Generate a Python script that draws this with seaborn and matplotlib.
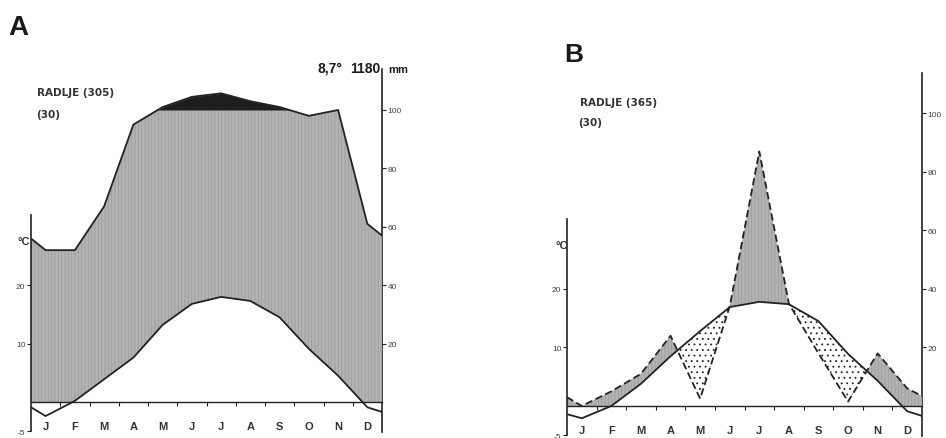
import numpy as np
import pandas as pd
import matplotlib
matplotlib.use('Agg')
import matplotlib.pyplot as plt
import seaborn as sns
from matplotlib.patches import Rectangle

# Climate diagram data, Radlje
months = ['J', 'F', 'M', 'A', 'M', 'J', 'J', 'A', 'S', 'O', 'N', 'D']

temp_A = [-2.4, 0.2, 3.9, 7.6, 13.2, 16.8, 18.0, 17.3, 14.5, 9.1, 4.5, -0.9]   # °C
temp_A_edges = (-0.9, -1.7)
prec_A = [52, 52, 67, 95, 110, 145, 157, 130, 110, 98, 100, 61]               # mm
prec_A_edges = (56, 57)

temp_B = [-2.1, 0.0, 3.8, 8.5, 12.8, 16.9, 17.8, 17.4, 14.5, 8.9, 4.3, -0.9]  # °C
temp_B_edges = (-1.4, -1.7)
dash_B = [0, 5, 11, 24, 2.5, 34, 87, 35, 18, 1.5, 18, 6]                        # mm
dash_B_edges = (3, 3.4)

mm_ticks = [20, 40, 60, 80, 100]

W, H = 946, 439
GRAY = '#b3b3b3'
INK = '#222222'

sns.set_theme(style='ticks')
plt.rcParams['font.family'] = ['Liberation Sans', 'DejaVu Sans']
plt.rcParams['hatch.linewidth'] = 0.6


def mm_to_units(p):
    # 2 mm = 1 °C up to 100 mm, reduced scale above
    p = np.asarray(p, float)
    return np.where(p <= 100, p / 2, 50 + (p - 100) / 20)


def series(vals, edges):
    x = np.concatenate([[0], np.arange(12) + 0.5, [12]])
    y = np.concatenate([[edges[0]], vals, [edges[1]]])
    return x, y


def style_axes(ax):
    ax.set_xlim(0, 12)
    ax.set_ylim(-5.2, 57)
    for s in ['top', 'right']:
        ax.spines[s].set_visible(False)
    ax.spines['bottom'].set_position(('data', 0))
    ax.spines['bottom'].set_linewidth(1.0)
    ax.spines['bottom'].set_color(INK)
    ax.spines['left'].set_bounds(-5, 32)
    ax.spines['left'].set_color(INK)
    ax.spines['left'].set_linewidth(1.2)
    ax.set_xticks(np.arange(12) + 0.5)
    ax.set_xticklabels(months, fontsize=8, fontweight='bold', color='#333333')
    ax.set_xticks(np.arange(1, 12), minor=True)
    ax.tick_params(axis='x', which='major', length=0, pad=14)
    ax.tick_params(axis='x', which='minor', length=3, width=0.8, direction='out', color=INK)
    ax.set_yticks([-5, 10, 20])
    ax.set_yticklabels(['-5', '10', '20'], fontsize=6, color='#444444')
    ax.tick_params(axis='y', length=3, width=0.8, pad=1, color=INK)
    ax.set_xlabel('')
    ax.set_ylabel('')
    sec = ax.secondary_yaxis('right', functions=(lambda y: 2 * y, lambda y: y / 2))
    sec.set_yticks(mm_ticks)
    sec.set_yticklabels([str(v) for v in mm_ticks], fontsize=6, color='#444444')
    sec.tick_params(length=3, width=0.8, pad=1, color=INK)
    sec.spines['right'].set_linewidth(1.2)
    sec.spines['right'].set_color(INK)
    ax.patch.set_alpha(0)


fig = plt.figure(figsize=(W / 100, H / 100), dpi=100)
axA = fig.add_axes([31 / W, (H - 433.4) / H, 351 / W, 363.3 / H])
axB = fig.add_axes([567 / W, (H - 437.4) / H, 355 / W, 363.9 / H])

# ---- Panel A ----
xt, yt = series(temp_A, temp_A_edges)
xp, yp = series(mm_to_units(prec_A), mm_to_units(prec_A_edges))
gray = axA.fill_between(xt, yt, yp, facecolor=GRAY, hatch='|||||', edgecolor='#9c9c9c', linewidth=0)
gray.set_clip_path(Rectangle((0, 0), 12, 50, transform=axA.transData))
axA.fill_between(xp, 50, yp, where=yp > 50, interpolate=True, color='#1e1e1e', linewidth=0)
dfA = pd.DataFrame({'x': np.concatenate([xt, xp]), 'y': np.concatenate([yt, yp]),
                    'var': ['temp'] * len(xt) + ['prec'] * len(xp)})
sns.lineplot(data=dfA, x='x', y='y', units='var', estimator=None, color=INK, lw=1.3, ax=axA)
style_axes(axA)

# ---- Panel B ----
xt, yt = series(temp_B, temp_B_edges)
xd, yd = series(np.array(dash_B) / 2, np.array(dash_B_edges) / 2)
g = axB.fill_between(xt, yt, yd, where=yd >= yt, interpolate=True, facecolor=GRAY,
                     hatch='|||||', edgecolor='#9c9c9c', linewidth=0)
g.set_clip_path(Rectangle((0, 0), 12, 60, transform=axB.transData))
axB.fill_between(xt, yt, yd, where=yd <= yt, interpolate=True, facecolor='white',
                 hatch='...', edgecolor=INK, linewidth=0)
sns.lineplot(x=xt, y=yt, color=INK, lw=1.3, ax=axB)
sns.lineplot(x=xd, y=yd, color=INK, lw=1.3, ax=axB, linestyle=(0, (4, 2)))
style_axes(axB)


def ftext(x, y, s, **kw):
    fig.text(x / W, 1 - y / H, s, va='center', **kw)


small = dict(fontsize=7.5, fontweight='bold', color='#333333', family='DejaVu Sans')
ftext(8, 28, 'A', fontsize=20, fontweight='bold', color='#1a1a1a')
ftext(564, 55, 'B', fontsize=19, fontweight='bold', color='#1a1a1a')
ftext(37, 93, 'RADLJE (305)', **small)
ftext(36, 115, '(30)', **small)
ftext(580, 103, 'RADLJE (365)', **small)
ftext(578, 123, '(30)', **small)
ftext(318, 69, '8,7°', fontsize=10, fontweight='bold', color='#1a1a1a')
ftext(350, 69, '1180', fontsize=10, fontweight='bold', color='#1a1a1a')
ftext(388, 70, 'mm', fontsize=8, fontweight='bold', color='#1a1a1a')
ftext(17, 242, '°C', fontsize=8, fontweight='bold', color='#333333')
ftext(555, 246, '°C', fontsize=8, fontweight='bold', color='#333333')

fig.savefig('out.png', dpi=100)
